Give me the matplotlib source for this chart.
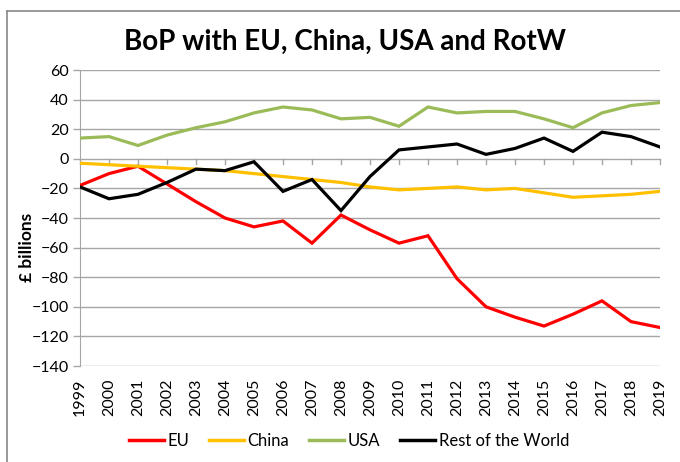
import numpy as np
import matplotlib
matplotlib.use('Agg')
import matplotlib.pyplot as plt
from matplotlib.lines import Line2D

plt.rcParams['font.family'] = ['Lato', 'DejaVu Sans']

years = np.arange(1999, 2020)
eu = [-18, -10, -5, -17, -29, -40, -46, -42, -57, -38, -48, -57, -52,
      -81, -100, -107, -113, -105, -96, -110, -114]
china = [-3, -4, -5, -6, -7, -8, -10, -12, -14, -16, -19, -21, -20,
         -19, -21, -20, -23, -26, -25, -24, -22]
usa = [14, 15, 9, 16, 21, 25, 31, 35, 33, 27, 28, 22, 35,
       31, 32, 32, 27, 21, 31, 36, 38]
rotw = [-19, -27, -24, -16, -7, -8, -2, -22, -14, -35, -12, 6, 8,
        10, 3, 7, 14, 5, 18, 15, 8]

names = ['EU', 'China', 'USA', 'Rest of the World']
colours = ['#ff0000', '#ffc000', '#9bbb59', '#000000']
series = [eu, china, usa, rotw]

fig = plt.figure(figsize=(6.8, 4.62), dpi=100)
ax = fig.add_axes([80/680, 1-366/462, 580/680, 296/462])

grid_c = '#a6a6a6'
for v in range(-140, 61, 20):
    ax.axhline(v, color=grid_c, lw=1, zorder=1)

for s, c, n in zip(series, colours, names):
    ax.plot(years, s, color=c, lw=2.3, label=n, zorder=3, solid_joinstyle='miter')

ax.set_xlim(1999, 2019)
ax.set_ylim(-140, 60)
ax.set_yticks(range(-140, 61, 20))
ax.set_xticks(years)
ax.set_xticklabels([str(y) for y in years], rotation=90, fontsize=11.5)
ax.tick_params(axis='y', labelsize=11.5, color=grid_c, length=5, width=1, pad=3)
ax.tick_params(axis='x', length=0, pad=9)

# small ticks hanging from the zero line
for y in years:
    ax.plot([y, y], [0, -3.2], color=grid_c, lw=1, zorder=1, clip_on=False)

for side in ['top', 'right', 'bottom']:
    ax.spines[side].set_visible(False)
ax.spines['left'].set_color(grid_c)

ax.set_ylabel('£ billions', fontsize=12.5, fontweight='bold')
ax.yaxis.set_label_coords(-0.078, 0.4)

fig.text(0.507, 1-42/462, 'BoP with EU, China, USA and RotW', ha='center', va='center',
         fontsize=20, fontweight='bold')

handles = [Line2D([0], [0], color=c, lw=2.5) for c in colours]
fig.legend(handles, names, loc='center', bbox_to_anchor=(349/680, 1-441/462), ncol=4,
           frameon=False, fontsize=12, handlelength=2.1, handletextpad=0.2,
           columnspacing=1.2)

# chart frame (top and left edges visible)
fig.add_artist(Line2D([7/680, 7/680], [0, 1-11/462], color='#888888', lw=1.2,
                      transform=fig.transFigure))
fig.add_artist(Line2D([7/680, 1], [1-11/462, 1-11/462], color='#888888', lw=1.2,
                      transform=fig.transFigure))

fig.savefig('out.png', dpi=100)
